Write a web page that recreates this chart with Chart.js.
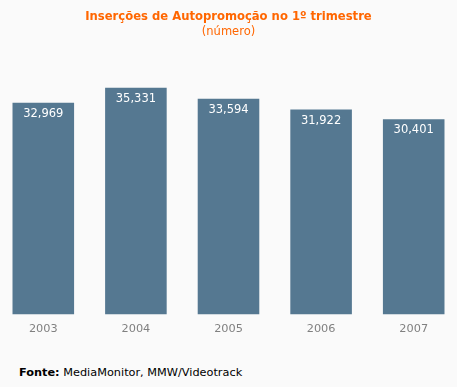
<!DOCTYPE html>
<html>
<head>
<meta charset="utf-8">
<script src="https://cdn.jsdelivr.net/npm/chart.js@4/dist/chart.umd.min.js"></script>
<style>
    body { margin: 0; background: #fafafa; width: 457px; height: 387px; overflow: hidden; position: relative; font-family: 'DejaVu Sans', Verdana, sans-serif; }
    #wrap { position: absolute; left: -3px; top: 0; width: 463px; height: 345px; }
    .fonte { position: absolute; left: 19px; top: 366px; font-size: 11.3px; color: #000; }
</style>
</head>
<body>
<div id="wrap"><canvas id="chart"></canvas></div>
<div class="fonte"><b>Fonte:</b> MediaMonitor, MMW/Videotrack</div>
<script>
const years = ['2003', '2004', '2005', '2006', '2007'];
const insercoes = [32969, 35331, 33594, 31922, 30401];

// Value labels drawn inside top of each bar
const barLabels = {
    id: 'barLabels',
    afterDatasetsDraw(chart) {
        const ctx = chart.ctx;
        const meta = chart.getDatasetMeta(0);
        ctx.save();
        ctx.fillStyle = '#ffffff';
        ctx.font = '11.5px "DejaVu Sans"';
        ctx.textAlign = 'center';
        ctx.textBaseline = 'middle';
        meta.data.forEach(function(bar, i) {
            ctx.fillText(insercoes[i].toLocaleString('en-US'), bar.x, bar.y + 11);
        });
        ctx.restore();
    }
};

new Chart(document.getElementById('chart'), {
    type: 'bar',
    data: {
        labels: years,
        datasets: [{
            data: insercoes,
            backgroundColor: '#557891',
            borderWidth: 0,
            categoryPercentage: 1,
            barPercentage: 0.665
        }]
    },
    options: {
        responsive: true,
        maintainAspectRatio: false,
        animation: false,
        layout: { padding: { top: 0, bottom: 1, left: 0, right: 0 } },
        plugins: {
            legend: { display: false },
            tooltip: { enabled: false },
            title: {
                display: true,
                text: 'Inserções de Autopromoção no 1º trimestre',
                color: '#ff6600',
                font: { family: 'DejaVu Sans', size: 11.6, weight: 'bold' },
                padding: { top: 10, bottom: 1 }
            },
            subtitle: {
                display: true,
                text: '(número)',
                color: '#ff6600',
                font: { family: 'DejaVu Sans', size: 11.5 },
                padding: { top: 0, bottom: 19 }
            }
        },
        scales: {
            y: {
                display: false,
                min: 0,
                max: 40000
            },
            x: {
                grid: { display: false, drawTicks: false },
                border: { display: false },
                ticks: {
                    color: '#808080',
                    padding: 8,
                    font: { family: 'DejaVu Sans', size: 11.3 }
                }
            }
        }
    },
    plugins: [barLabels]
});
</script>
</body>
</html>
